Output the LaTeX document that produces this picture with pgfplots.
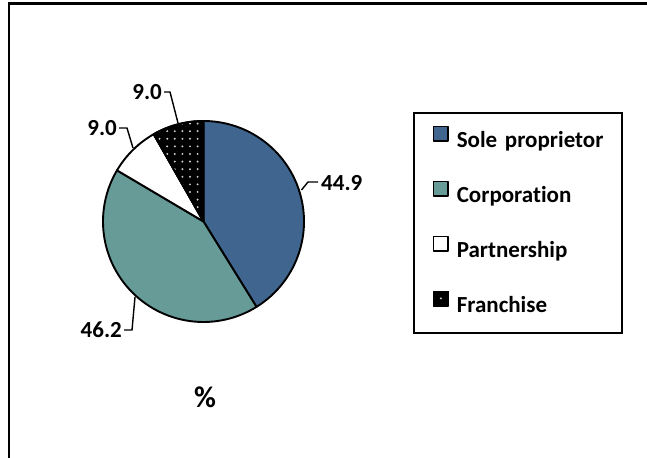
\documentclass[border=0pt]{standalone}
\usepackage{fontspec}
\setmainfont{Carlito}[Ligatures={NoCommon}]
\usepackage{pgfplots}
\usepackage{pgfplotstable}
\pgfplotsset{compat=1.18}
\usetikzlibrary{patterns}
\pgfdeclarepatternformonly{bigdots}{\pgfpoint{-1.5bp}{-1.5bp}}{\pgfpoint{1.5bp}{1.5bp}}{\pgfpoint{7.6bp}{7.6bp}}{\pgfpathcircle{\pgfpointorigin}{1.1bp}\pgfusepath{fill}}
\definecolor{soleblue}{RGB}{64,102,143}
\definecolor{corpteal}{RGB}{102,155,152}
\newcommand\lblfont{\fontsize{23bp}{27bp}\selectfont\bfseries}
\newcommand\titlefont{\fontsize{30bp}{34bp}\selectfont\bfseries}
\pgfplotstableread{
name value
Sole 44.9
Corp 46.2
Part 9.0
Fran 9.0
}\pietable
\begin{document}
\begin{tikzpicture}
\useasboundingbox (0,0) rectangle (647bp,458bp);
\pgfplotstablegetelem{0}{value}\of\pietable \let\vA\pgfplotsretval
\pgfplotstablegetelem{1}{value}\of\pietable \let\vB\pgfplotsretval
\pgfplotstablegetelem{2}{value}\of\pietable \let\vC\pgfplotsretval
\pgfplotstablegetelem{3}{value}\of\pietable \let\vD\pgfplotsretval
\pgfmathsetmacro\tot{\vA+\vB+\vC+\vD}
\pgfmathsetmacro\aA{90-\vA/\tot*360}
\pgfmathsetmacro\aB{\aA-\vB/\tot*360}
\pgfmathsetmacro\aC{\aB-\vC/\tot*360}
\pgfmathsetmacro\aD{\aC-\vD/\tot*360}
\def\cx{203.5}\def\cy{236.5}\def\rr{100.5}
\begin{axis}[
  at={(0,0)}, anchor=south west,
  scale only axis, width=647bp, height=458bp,
  xmin=0, xmax=647, ymin=0, ymax=458,
  hide axis, clip=false,
  every axis plot/.append style={draw=black, line width=1.9bp, line join=round},
  legend cell align=left,
  legend style={at={(axis cs:413,346)}, anchor=north west, draw=black,
    line width=1.8bp, inner sep=0pt, font=\lblfont, row sep=0pt, column sep=0pt,
    nodes={inner sep=0pt, minimum height=55bp, text height=14bp, text depth=0pt}},
  legend image code/.code={\path (0bp,0bp) (41bp,0bp);
    \draw[#1, line width=1.3bp] (18.5bp,-0.5bp) rectangle (33bp,14bp);},
]
\addplot[fill=soleblue, domain=\aA:90, samples=80]
  ({\cx+\rr*cos(x)},{\cy+\rr*sin(x)}) -- (axis cs:\cx,\cy) -- cycle;
\addlegendentry[text width=165bp]{Sole proprietor}
\addplot[fill=corpteal, domain=\aB:\aA, samples=80]
  ({\cx+\rr*cos(x)},{\cy+\rr*sin(x)}) -- (axis cs:\cx,\cy) -- cycle;
\addlegendentry[text width=165bp]{Corporation}
\addplot[fill=white, domain=\aC:\aB, samples=30]
  ({\cx+\rr*cos(x)},{\cy+\rr*sin(x)}) -- (axis cs:\cx,\cy) -- cycle;
\addlegendentry[text width=165bp]{Partnership}
\addplot[fill=black, postaction={pattern=bigdots, pattern color=white!80!black}, domain=\aD:\aC, samples=30]
  ({\cx+\rr*cos(x)},{\cy+\rr*sin(x)}) -- (axis cs:\cx,\cy) -- cycle;
\addlegendentry[text width=165bp]{Franchise}
% leader lines and value labels
\draw[line width=1.4bp] (axis cs:301.5,268) -- (axis cs:308,276) -- (axis cs:318,276);
\node[anchor=west, font=\lblfont, inner sep=0pt] at (axis cs:321,275) {44.9};
\draw[line width=1.4bp] (axis cs:135,161) -- (axis cs:132,128) -- (axis cs:124,128);
\node[anchor=east, font=\lblfont, inner sep=0pt] at (axis cs:122,128) {46.2};
\draw[line width=1.4bp] (axis cs:133,310) -- (axis cs:127,330) -- (axis cs:119,330);
\node[anchor=east, font=\lblfont, inner sep=0pt] at (axis cs:117,330) {9.0};
\draw[line width=1.4bp] (axis cs:178,335) -- (axis cs:170,366) -- (axis cs:164,366);
\node[anchor=east, font=\lblfont, inner sep=0pt] at (axis cs:162,366) {9.0};
\node[font=\titlefont, inner sep=0pt] at (axis cs:205,61) {\%};
% outer frame (only top and left edges visible)
\draw[line width=2.4bp] (axis cs:8.7,0) -- (axis cs:8.7,454.4) -- (axis cs:647,454.4);
\end{axis}
\end{tikzpicture}
\end{document}
